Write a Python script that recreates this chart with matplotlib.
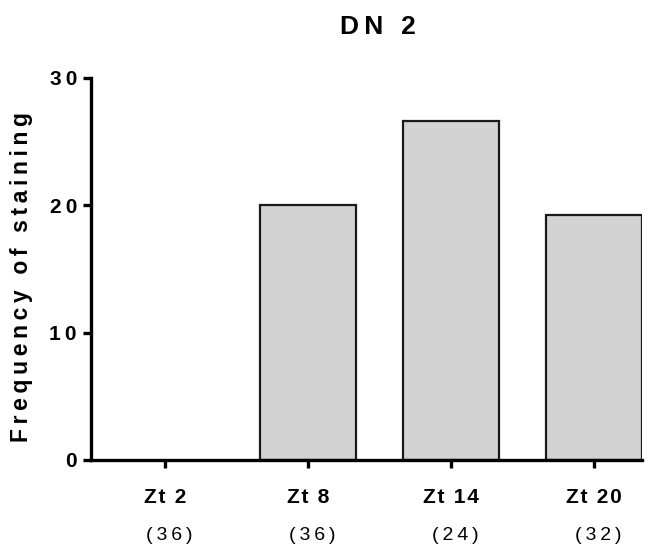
import numpy as np
import matplotlib.pyplot as plt
from matplotlib.transforms import blended_transform_factory

plt.rcParams['font.family'] = ['Liberation Sans', 'DejaVu Sans']

groups = ['Zt 2', 'Zt 8', 'Zt 14', 'Zt 20']
freq = [0, 20.0, 26.6, 19.2]
n_counts = ['(36)', '(36)', '(24)', '(32)']
yticks = [0, 10, 20, 30]

THIN = '\u2009'
HAIR = '\u200a'


def spaced(s, sep=THIN):
    # GraphPad style letter spacing
    return sep.join(s)


fig = plt.figure(figsize=(6.63, 5.45), dpi=100)
ax = fig.add_axes([0.137, 0.156, 0.831, 0.701])

x = np.arange(len(groups))
# empty bars have no visible outline in the original
lw = [0 if v == 0 else 1.6 for v in freq]
ax.bar(x, freq, width=0.67, color='#d3d3d3', edgecolor='#1a1a1a', linewidth=lw, zorder=2)

ax.set_xlim(-0.52, 3.335)
ax.set_ylim(0, 30)
ax.set_yticks(yticks)
ax.set_yticklabels([spaced(str(t)) for t in yticks], fontsize=15, fontweight='bold')
ax.set_xticks(x)
ax.set_xticklabels([spaced(g, HAIR) for g in groups], fontsize=15, fontweight='bold')

for s in ['top', 'right']:
    ax.spines[s].set_visible(False)
for s in ['left', 'bottom']:
    ax.spines[s].set_linewidth(2.4)
    ax.spines[s].set_zorder(3)
ax.tick_params(axis='both', width=2.4, length=6, direction='out')
ax.tick_params(axis='y', pad=4)
ax.tick_params(axis='x', pad=14)

trans = blended_transform_factory(ax.transData, fig.transFigure)
for xi, c in zip(x, n_counts):
    ax.text(xi + 0.03, 1 - 536 / 545, spaced(c), transform=trans, ha='center', va='center',
            fontsize=14)

fig.text(22 / 663, 1 - 277 / 545, spaced('Frequency of staining'), rotation=90,
         ha='center', va='center', fontsize=16.5, fontweight='bold')
fig.text(378 / 663, 1 - 27 / 545, spaced('DN 2'), ha='center', va='center',
         fontsize=19, fontweight='bold')

fig.savefig('out.png', dpi=100)
